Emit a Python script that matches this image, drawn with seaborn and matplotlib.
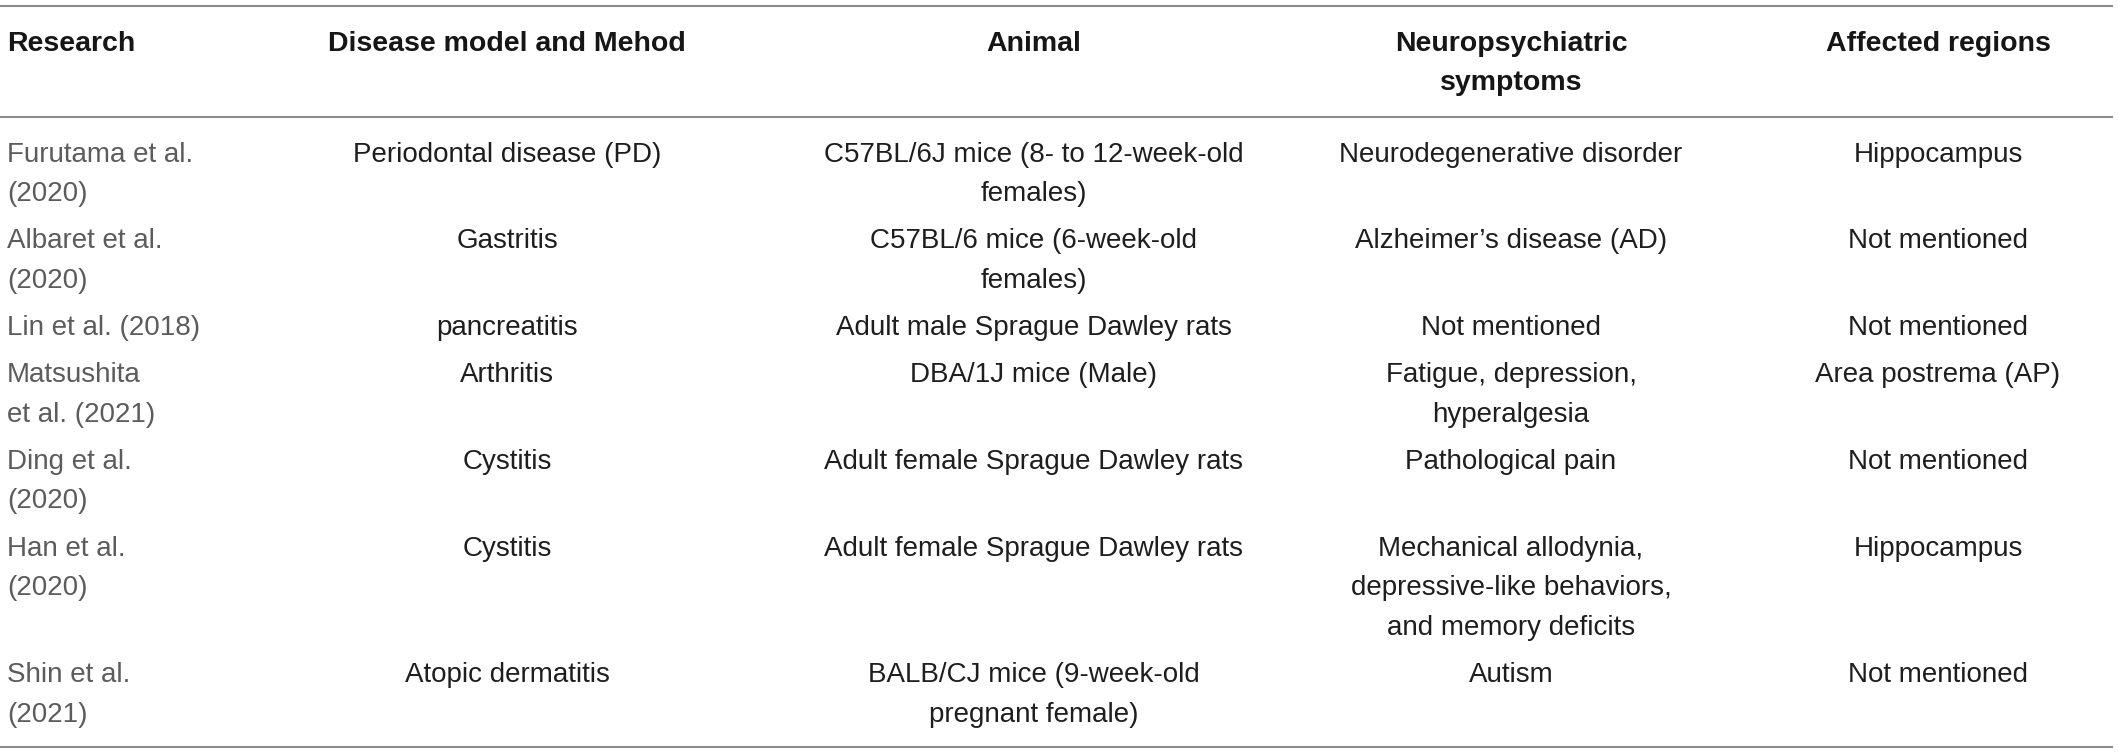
import matplotlib
matplotlib.use("Agg")
import matplotlib.pyplot as plt
import seaborn as sns
import pandas as pd

# ---------------- data ----------------
columns = ["Research", "Disease model and Mehod", "Animal",
           "Neuropsychiatric\nsymptoms", "Affected regions"]

research = ["Furutama et al.\n(2020)", "Albaret et al.\n(2020)", "Lin et al. (2018)",
            "Matsushita\net al. (2021)", "Ding et al.\n(2020)", "Han et al.\n(2020)",
            "Shin et al.\n(2021)"]
disease_model = ["Periodontal disease (PD)", "Gastritis", "pancreatitis", "Arthritis",
                 "Cystitis", "Cystitis", "Atopic dermatitis"]
animal = ["C57BL/6J mice (8- to 12-week-old\nfemales)",
          "C57BL/6 mice (6-week-old\nfemales)",
          "Adult male Sprague Dawley rats",
          "DBA/1J mice (Male)",
          "Adult female Sprague Dawley rats",
          "Adult female Sprague Dawley rats",
          "BALB/CJ mice (9-week-old\npregnant female)"]
symptoms = ["Neurodegenerative disorder", "Alzheimer\u2019s disease (AD)", "Not mentioned",
            "Fatigue, depression,\nhyperalgesia", "Pathological pain",
            "Mechanical allodynia,\ndepressive-like behaviors,\nand memory deficits",
            "Autism"]
regions = ["Hippocampus", "Not mentioned", "Not mentioned", "Area postrema (AP)",
           "Not mentioned", "Hippocampus", "Not mentioned"]

table = pd.DataFrame({columns[0]: research, columns[1]: disease_model,
                      columns[2]: animal, columns[3]: symptoms, columns[4]: regions})

# ---------------- layout / style ----------------
W, H, DPI = 2118, 753, 100
sns.set_theme(style="white")
plt.rcParams["font.family"] = ["Liberation Sans", "DejaVu Sans"]

col_x = [7, 507, 1034, 1511, 1938]
col_ha = ["left", "center", "center", "center", "center"]
body_colors = ["#5c5c5c", "#1e1e1e", "#1e1e1e", "#1e1e1e", "#1e1e1e"]
LH = 39.6
PAD = 7.5
header_base = 50.7
body_base = 161.7
rule_color = "#8c8c8c"

fig = plt.figure(figsize=(W / DPI, H / DPI), dpi=DPI)
ax = fig.add_axes([0, 0, 1, 1])
ax.set_xlim(0, W)
ax.set_ylim(H, 0)
ax.axis("off")

# header
for ci, col in enumerate(table.columns):
    for li, line in enumerate(col.split("\n")):
        ax.text(col_x[ci], header_base + li * LH, line, ha=col_ha[ci], va="baseline",
                fontsize=20.5, fontweight="bold", color="#161616")

# body
base = body_base
for _, row in table.iterrows():
    cells = [str(v).split("\n") for v in row.values]
    nl = max(len(c) for c in cells)
    for ci, lines in enumerate(cells):
        for li, line in enumerate(lines):
            ax.text(col_x[ci], base + li * LH, line, ha=col_ha[ci], va="baseline",
                    fontsize=20, color=body_colors[ci])
    base += nl * LH + PAD

# rules
ax.hlines([5.5, 117, 747], 0, 2113, color=rule_color, lw=1.5)

fig.savefig("out.png", dpi=DPI)
